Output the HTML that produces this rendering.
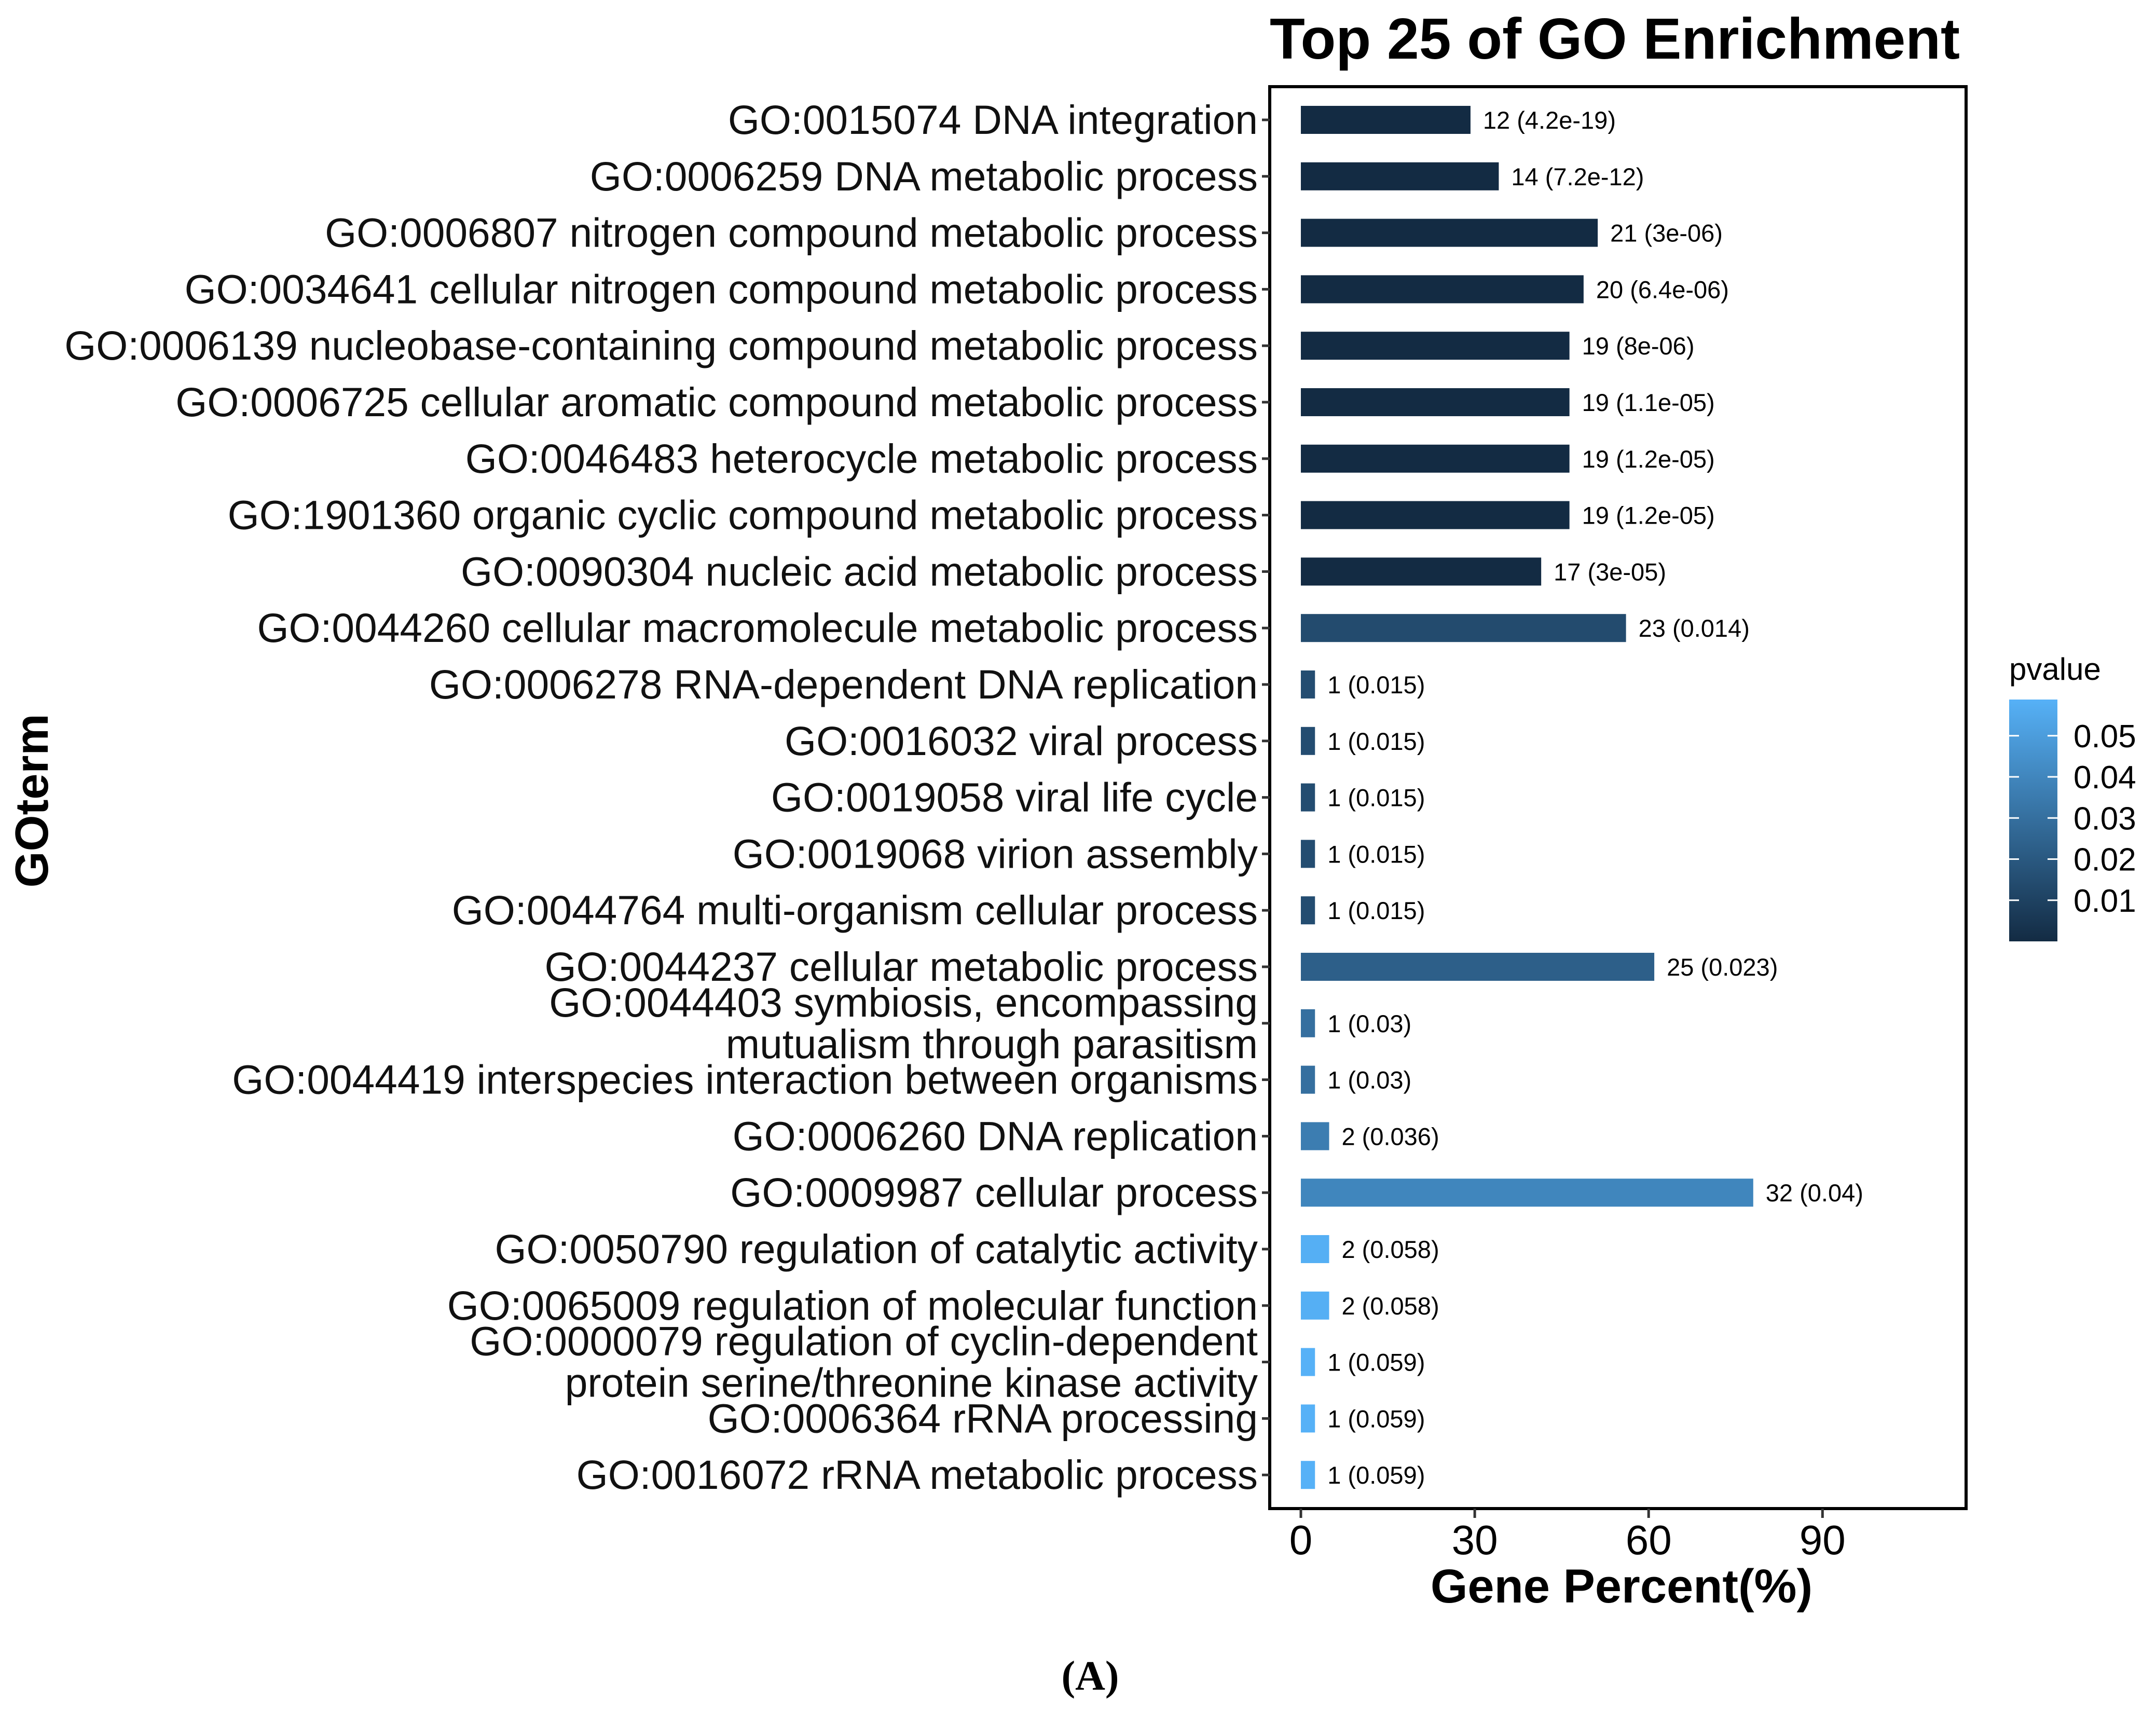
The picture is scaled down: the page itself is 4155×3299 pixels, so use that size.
<!DOCTYPE html>
<html><head><meta charset="utf-8"><style>
html,body{margin:0;padding:0;background:#fff;}
svg{display:block;font-family:"Liberation Sans",Arial,sans-serif;}
</style></head><body>
<svg id="chart" width="4155" height="3299" viewBox="0 0 4155 3299" xmlns="http://www.w3.org/2000/svg">
<defs>
<linearGradient id="pgrad" x1="0" y1="1" x2="0" y2="0">
<stop offset="0" stop-color="#132B43"/><stop offset="1" stop-color="#56B1F7"/>
</linearGradient>
</defs>
<text x="3112" y="113" font-size="111" font-weight="bold" text-anchor="middle">Top 25 of GO Enrichment</text>
<rect x="2447" y="167" width="1342" height="2740" fill="none" stroke="#000" stroke-width="6"/>
<g id="bars"></g>
<g id="ylabels"></g>
<g id="xaxis"></g>
<text x="3125" y="3088" font-size="92" font-weight="bold" text-anchor="middle">Gene Percent(%)</text>
<text transform="translate(92,1543) rotate(-90)" font-size="90" font-weight="bold" text-anchor="middle">GOterm</text>
<g>
<text x="3872" y="1310" font-size="60">pvalue</text>
<rect x="3872" y="1348" width="93" height="466" fill="url(#pgrad)"/>
<g id="legticks"></g>
</g>
<text x="2101" y="3256" font-size="80" font-weight="bold" font-family="Liberation Serif,serif" text-anchor="middle">(A)</text>
</svg>
<script>
const terms=["GO:0015074 DNA integration","GO:0006259 DNA metabolic process","GO:0006807 nitrogen compound metabolic process","GO:0034641 cellular nitrogen compound metabolic process","GO:0006139 nucleobase-containing compound metabolic process","GO:0006725 cellular aromatic compound metabolic process","GO:0046483 heterocycle metabolic process","GO:1901360 organic cyclic compound metabolic process","GO:0090304 nucleic acid metabolic process","GO:0044260 cellular macromolecule metabolic process","GO:0006278 RNA-dependent DNA replication","GO:0016032 viral process","GO:0019058 viral life cycle","GO:0019068 virion assembly","GO:0044764 multi-organism cellular process","GO:0044237 cellular metabolic process","GO:0044403 symbiosis, encompassing\nmutualism through parasitism","GO:0044419 interspecies interaction between organisms","GO:0006260 DNA replication","GO:0009987 cellular process","GO:0050790 regulation of catalytic activity","GO:0065009 regulation of molecular function","GO:0000079 regulation of cyclin-dependent\nprotein serine/threonine kinase activity","GO:0006364 rRNA processing","GO:0016072 rRNA metabolic process"];
const counts=[12,14,21,20,19,19,19,19,17,23,1,1,1,1,1,25,1,1,2,32,2,2,1,1,1];
const pvalues=[4.2e-19,7.2e-12,3e-6,6.4e-6,8e-6,1.1e-5,1.2e-5,1.2e-5,3e-5,0.014,0.015,0.015,0.015,0.015,0.015,0.023,0.03,0.03,0.036,0.04,0.058,0.058,0.059,0.059,0.059];
const pvalueLabels=["4.2e-19","7.2e-12","3e-06","6.4e-06","8e-06","1.1e-05","1.2e-05","1.2e-05","3e-05","0.014","0.015","0.015","0.015","0.015","0.015","0.023","0.03","0.03","0.036","0.04","0.058","0.058","0.059","0.059","0.059"];
const totalGenes=41;
const xTicks=[0,30,60,90];
const legendTicks=[0.01,0.02,0.03,0.04,0.05];

const NS="http://www.w3.org/2000/svg";
const x=v=>2507+v*11.17;
const y=i=>231+i*108.8;
const pmin=0,pmax=0.059;
const legY=v=>1814-v*7925;
function color(p){const t=Math.max(0,Math.min(1,(p-pmin)/(pmax-pmin)));
const a=[0x13,0x2B,0x43],b=[0x56,0xB1,0xF7];
return "rgb("+a.map((c,k)=>Math.round(c+(b[k]-c)*t)).join(",")+")";}
function mk(tag,attrs,parent){const e=document.createElementNS(NS,tag);for(const k in attrs)e.setAttribute(k,attrs[k]);parent.appendChild(e);return e;}
const gb=document.getElementById('bars'),gl=document.getElementById('ylabels'),gx=document.getElementById('xaxis'),gt=document.getElementById('legticks');
terms.forEach((t,i)=>{
 const pct=counts[i]/totalGenes*100;
 const r=mk('rect',{x:x(0),y:y(i)-27,width:x(pct)-x(0),height:54,fill:color(pvalues[i])},gb);
 
 
 const lt=mk('text',{x:x(pct)+24,y:y(i)+17,'font-size':47},gb);
 lt.textContent=counts[i]+" ("+pvalueLabels[i]+")";
 
 
 const tk=mk('line',{x1:2432,x2:2447,y1:y(i),y2:y(i),stroke:'#333','stroke-width':5},gl);
 
 
 const lines=t.split("\n");
 lines.forEach((ln,k)=>{
  const off=lines.length===1?27:(k===0?-13:67);
  const tx=mk('text',{x:2424,y:y(i)+off,'font-size':78.5,'text-anchor':'end',fill:'#111'},gl);
  tx.textContent=ln;
  
  
 });
});
xTicks.forEach(v=>{
 const l=mk('line',{x1:x(v),x2:x(v),y1:2907,y2:2925,stroke:'#333','stroke-width':5},gx);
 
 
 const t=mk('text',{x:x(v),y:2995,'font-size':80,'text-anchor':'middle'},gx);
 t.textContent=v;
 
 
});
legendTicks.forEach(v=>{
 const yy=legY(v);
 const a=mk('line',{x1:3872,x2:3891,y1:yy,y2:yy,stroke:'#fff','stroke-width':3},gt);
 
 
 const b=mk('line',{x1:3946,x2:3965,y1:yy,y2:yy,stroke:'#fff','stroke-width':3},gt);
 
 
 const t=mk('text',{x:3996,y:yy+22,'font-size':62},gt);
 t.textContent=v.toFixed(2);
 
 
});
</script>
</body></html>
